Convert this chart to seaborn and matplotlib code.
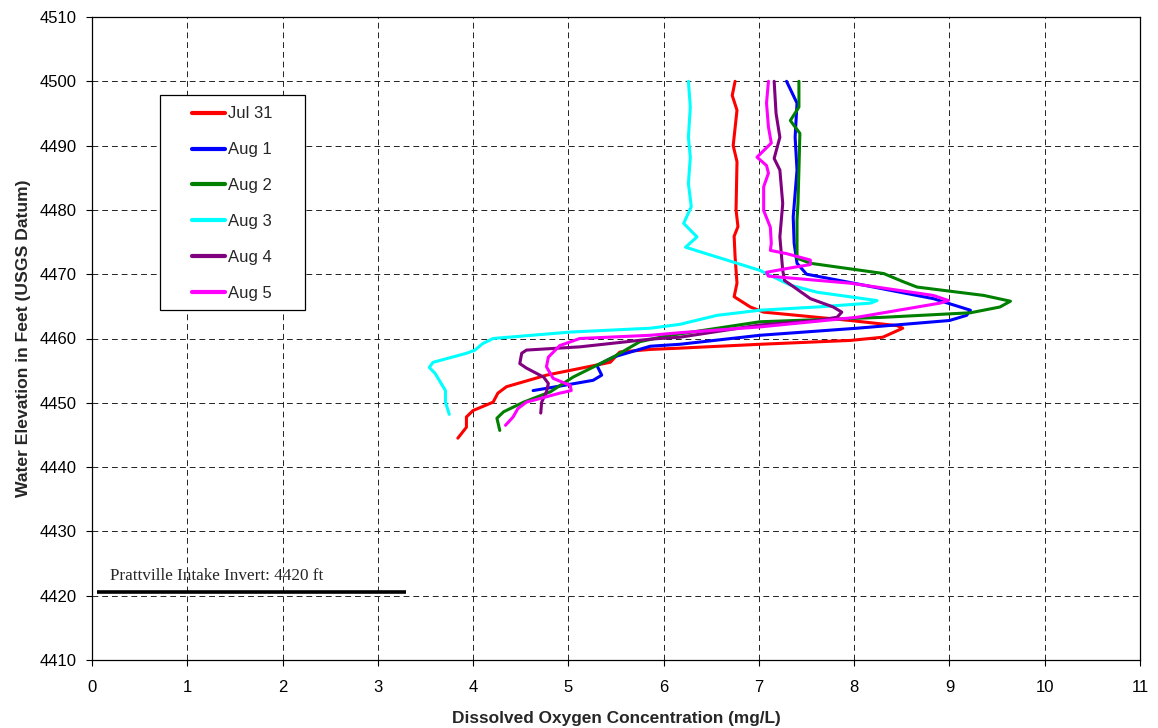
import matplotlib
matplotlib.use("Agg")
import matplotlib.pyplot as plt
from matplotlib.patches import Rectangle
import seaborn as sns
import pandas as pd

# ---------------- data ----------------
labels = ["Jul 31", "Aug 1", "Aug 2", "Aug 3", "Aug 4", "Aug 5"]
colors = ["#FF0000", "#0000FF", "#008000", "#00FFFF", "#800080", "#FF00FF"]

jul31_do = [6.75, 6.72, 6.77, 6.73, 6.77, 6.76, 6.78, 6.74, 6.75, 6.77, 6.74, 6.91, 7.05, 7.96, 8.45, 8.51,
            8.30, 7.96, 7.01, 6.17, 5.86, 5.54, 5.44, 4.77, 4.35, 4.26, 4.21, 4.00, 3.93, 3.93, 3.84]
jul31_el = [4500, 4497.8, 4495.5, 4490, 4487.5, 4480, 4477.4, 4475.9, 4472.7, 4468.6, 4466.5, 4464.9, 4464.1,
            4462.8, 4462.0, 4461.6, 4460.2, 4459.7, 4459.1, 4458.5, 4458.3, 4457.9, 4456.3, 4454.3, 4452.5,
            4451.5, 4450.1, 4448.8, 4447.8, 4446.2, 4444.5]

aug1_do = [7.29, 7.40, 7.38, 7.40, 7.36, 7.37, 7.40, 7.50, 7.96, 8.83, 9.22, 9.18, 9.00, 8.03, 7.01, 6.17,
           5.86, 5.47, 5.30, 5.35, 5.26, 4.95, 4.63]
aug1_el = [4500, 4496.6, 4491.3, 4486.2, 4478.9, 4474.8, 4471.7, 4470.0, 4468.7, 4466.2, 4464.4, 4463.6,
           4462.8, 4461.6, 4460.5, 4459.1, 4458.8, 4457.1, 4455.8, 4454.3, 4453.5, 4452.7, 4451.9]

aug2_do = [7.42, 7.42, 7.33, 7.43, 7.42, 7.41, 7.40, 7.40, 7.40, 7.54, 8.31, 8.52, 8.66, 9.36, 9.64, 9.53,
           9.22, 8.31, 7.01, 6.03, 5.75, 5.47, 5.05, 4.81, 4.53, 4.32, 4.25, 4.28]
aug2_el = [4500, 4496.0, 4493.9, 4491.9, 4486.2, 4481.0, 4478.4, 4475.8, 4472.5, 4471.7, 4470.1, 4468.8,
           4468.0, 4466.7, 4465.8, 4464.9, 4464.0, 4463.3, 4462.6, 4460.4, 4459.5, 4457.1, 4454.0, 4451.7,
           4450.1, 4448.6, 4447.6, 4445.7]

aug3_do = [6.26, 6.28, 6.26, 6.28, 6.26, 6.29, 6.21, 6.35, 6.23, 6.38, 7.01, 7.33, 7.61, 8.24, 8.17, 7.61,
           7.01, 6.56, 6.17, 5.86, 5.02, 4.21, 4.10, 4.02, 3.93, 3.58, 3.54, 3.60, 3.71, 3.71, 3.75]
aug3_el = [4500, 4496.0, 4491.3, 4488.2, 4484.1, 4480.5, 4477.9, 4475.8, 4474.2, 4473.5, 4470.6, 4468.3,
           4467.2, 4465.9, 4465.5, 4464.9, 4464.4, 4463.6, 4462.2, 4461.6, 4461.0, 4460.0, 4459.2, 4458.2,
           4457.7, 4456.3, 4455.5, 4454.6, 4451.9, 4450.1, 4448.2]

aug4_do = [7.16, 7.18, 7.22, 7.16, 7.22, 7.25, 7.22, 7.25, 7.27, 7.33, 7.54, 7.78, 7.87, 7.82, 7.61, 7.01,
           6.17, 5.86, 5.12, 4.56, 4.51, 4.49, 4.56, 4.74, 4.79, 4.77, 4.72, 4.71]
aug4_el = [4500, 4495.0, 4491.3, 4488.0, 4486.2, 4481.0, 4475.8, 4470.6, 4469.0, 4468.4, 4466.2, 4464.9,
           4464.1, 4463.3, 4462.8, 4462.1, 4460.2, 4459.9, 4458.7, 4458.2, 4457.7, 4456.1, 4455.4, 4454.0,
           4453.0, 4451.7, 4450.1, 4448.4]

aug5_do = [7.10, 7.08, 7.10, 7.13, 6.98, 7.08, 7.10, 7.05, 7.05, 7.12, 7.13, 7.12, 7.29, 7.54, 7.54, 7.30,
           7.08, 7.10, 7.96, 8.83, 8.99, 8.90, 8.03, 7.01, 6.17, 5.86, 5.12, 4.91, 4.79, 4.77, 4.84, 5.02,
           5.03, 4.91, 4.56, 4.47, 4.42, 4.34]
aug5_el = [4500, 4496.6, 4492.9, 4490.4, 4488.2, 4486.9, 4485.7, 4483.6, 4479.9, 4477.3, 4474.8, 4473.7,
           4473.2, 4472.2, 4471.5, 4470.9, 4470.3, 4469.7, 4468.6, 4466.7, 4465.9, 4465.5, 4463.3, 4461.8,
           4460.9, 4460.5, 4460.0, 4458.9, 4457.1, 4455.6, 4453.8, 4452.7, 4451.9, 4451.5, 4450.1, 4449.1,
           4447.8, 4446.5]

intake_x = [0.05, 3.30]
intake_y = [4420.6, 4420.6]
intake_label = "Prattville Intake Invert: 4420 ft"

x_ticks = list(range(0, 12))
y_ticks = list(range(4410, 4511, 10))

series_do = [jul31_do, aug1_do, aug2_do, aug3_do, aug4_do, aug5_do]
series_el = [jul31_el, aug1_el, aug2_el, aug3_el, aug4_el, aug5_el]

# ---------------- plot ----------------
sns.set_style("ticks")
plt.rcParams["font.family"] = ["Liberation Sans", "DejaVu Sans"]

W, H = 1158, 728
fig = plt.figure(figsize=(W / 100, H / 100), dpi=100)
L, R, T, B = 92, 1140, 17, 660
ax = fig.add_axes([L / W, 1 - B / H, (R - L) / W, (B - T) / H])


def ax_x(px):
    return (px - L) / (R - L)


def ax_y(py):
    return (B - py) / (B - T)


for lab, col, xs, ys in zip(labels, colors, series_do, series_el):
    df = pd.DataFrame({"do": xs, "el": ys})
    sns.lineplot(data=df, x="do", y="el", sort=False, estimator=None, color=col,
                 linewidth=2.2, label=lab, ax=ax)

ax.plot(intake_x, intake_y, color="black", linewidth=2.6, solid_capstyle="butt")
ax.text(0.19, 4423.0, intake_label, family=["Liberation Serif", "DejaVu Serif"],
        fontsize=12.3, va="center", ha="left")

ax.set_xlim(0, 11)
ax.set_ylim(4410, 4510)
ax.set_xticks(x_ticks)
ax.set_yticks(y_ticks)
ax.tick_params(axis="y", direction="out", length=4.5, width=0.8, pad=6.5, labelsize=12, colors="black")
ax.tick_params(axis="x", direction="out", length=4.5, width=0.8, pad=10, labelsize=12, colors="black")
ax.grid(True, color="#222222", linestyle=(0, (6, 4)), linewidth=0.7)
for s in ax.spines.values():
    s.set_color("black")
    s.set_linewidth(0.9)
    s.set_visible(True)

ax.set_xlabel("Dissolved Oxygen Concentration (mg/L)", fontsize=12.4, fontweight="bold", labelpad=11.5)
ax.set_ylabel("Water Elevation in Feet (USGS Datum)", fontsize=12.6, fontweight="bold", labelpad=6)

# legend box (white, black edge) and frameless legend inside it
box = Rectangle((ax_x(160), ax_y(310)), ax_x(305) - ax_x(160), ax_y(95) - ax_y(310),
                transform=ax.transAxes, facecolor="white", edgecolor="black", linewidth=0.9,
                zorder=4)
ax.add_patch(box)
leg = ax.legend(loc="upper left", bbox_to_anchor=(ax_x(192), ax_y(106.5)),
                fontsize=12, frameon=False, labelspacing=1.25, handlelength=2.0,
                handletextpad=0.18, borderpad=0, borderaxespad=0)
leg.set_zorder(5)
for h in leg.get_lines():
    h.set_linewidth(3)

fig.savefig("out.png", dpi=100, facecolor="white")
